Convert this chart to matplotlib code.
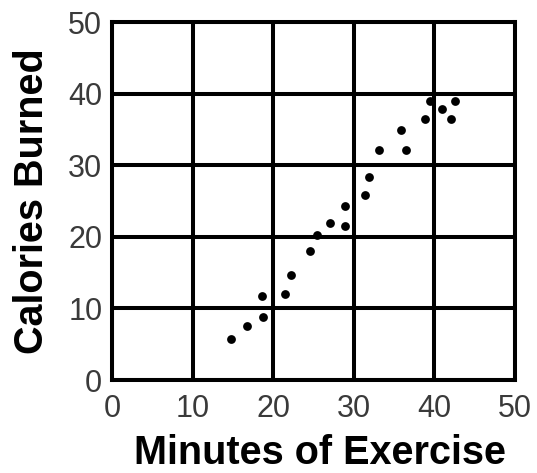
import matplotlib
matplotlib.use("Agg")
import matplotlib.pyplot as plt

minutes = [14.8, 16.8, 18.7, 18.6, 21.5, 22.2, 24.6, 25.4, 27.1, 28.9, 28.9,
           31.4, 31.9, 33.1, 36.5, 35.8, 38.8, 39.5, 41.0, 42.0, 42.6]
calories = [5.7, 7.5, 8.8, 11.7, 12.0, 14.6, 18.0, 20.2, 21.9, 21.5, 24.3,
            25.8, 28.3, 32.1, 32.1, 34.9, 36.4, 39.0, 37.9, 36.4, 38.9]
ticks = [0, 10, 20, 30, 40, 50]
x_label = "Minutes of Exercise"
y_label = "Calories Burned"

plt.rcParams['font.family'] = ['Liberation Sans', 'DejaVu Sans']

fig = plt.figure(figsize=(5.37, 4.73), dpi=100)
ax = fig.add_axes([112/537, 1 - 380/473, (515 - 112)/537, (380 - 22)/473])

ax.scatter(minutes, calories, s=40, color='black', zorder=3, linewidths=0)
ax.set_xlim(0, 50)
ax.set_ylim(0, 50)
ax.set_xticks(ticks)
ax.set_yticks(ticks)
ax.grid(True, color='black', linewidth=2.9)
ax.set_axisbelow(True)
for s in ax.spines.values():
    s.set_linewidth(2.9)
    s.set_color('black')
ax.tick_params(axis='x', length=0, labelsize=22, labelcolor='#3a3a3a', pad=10)
ax.tick_params(axis='y', length=0, labelsize=22, labelcolor='#3a3a3a', pad=7)
ax.set_xlabel(x_label, fontsize=28.5, fontweight='bold', labelpad=7)
ax.xaxis.label.set_x(0.516)
ax.set_ylabel(y_label, fontsize=28.5, fontweight='bold', labelpad=12)

fig.savefig("out.png", dpi=100)
